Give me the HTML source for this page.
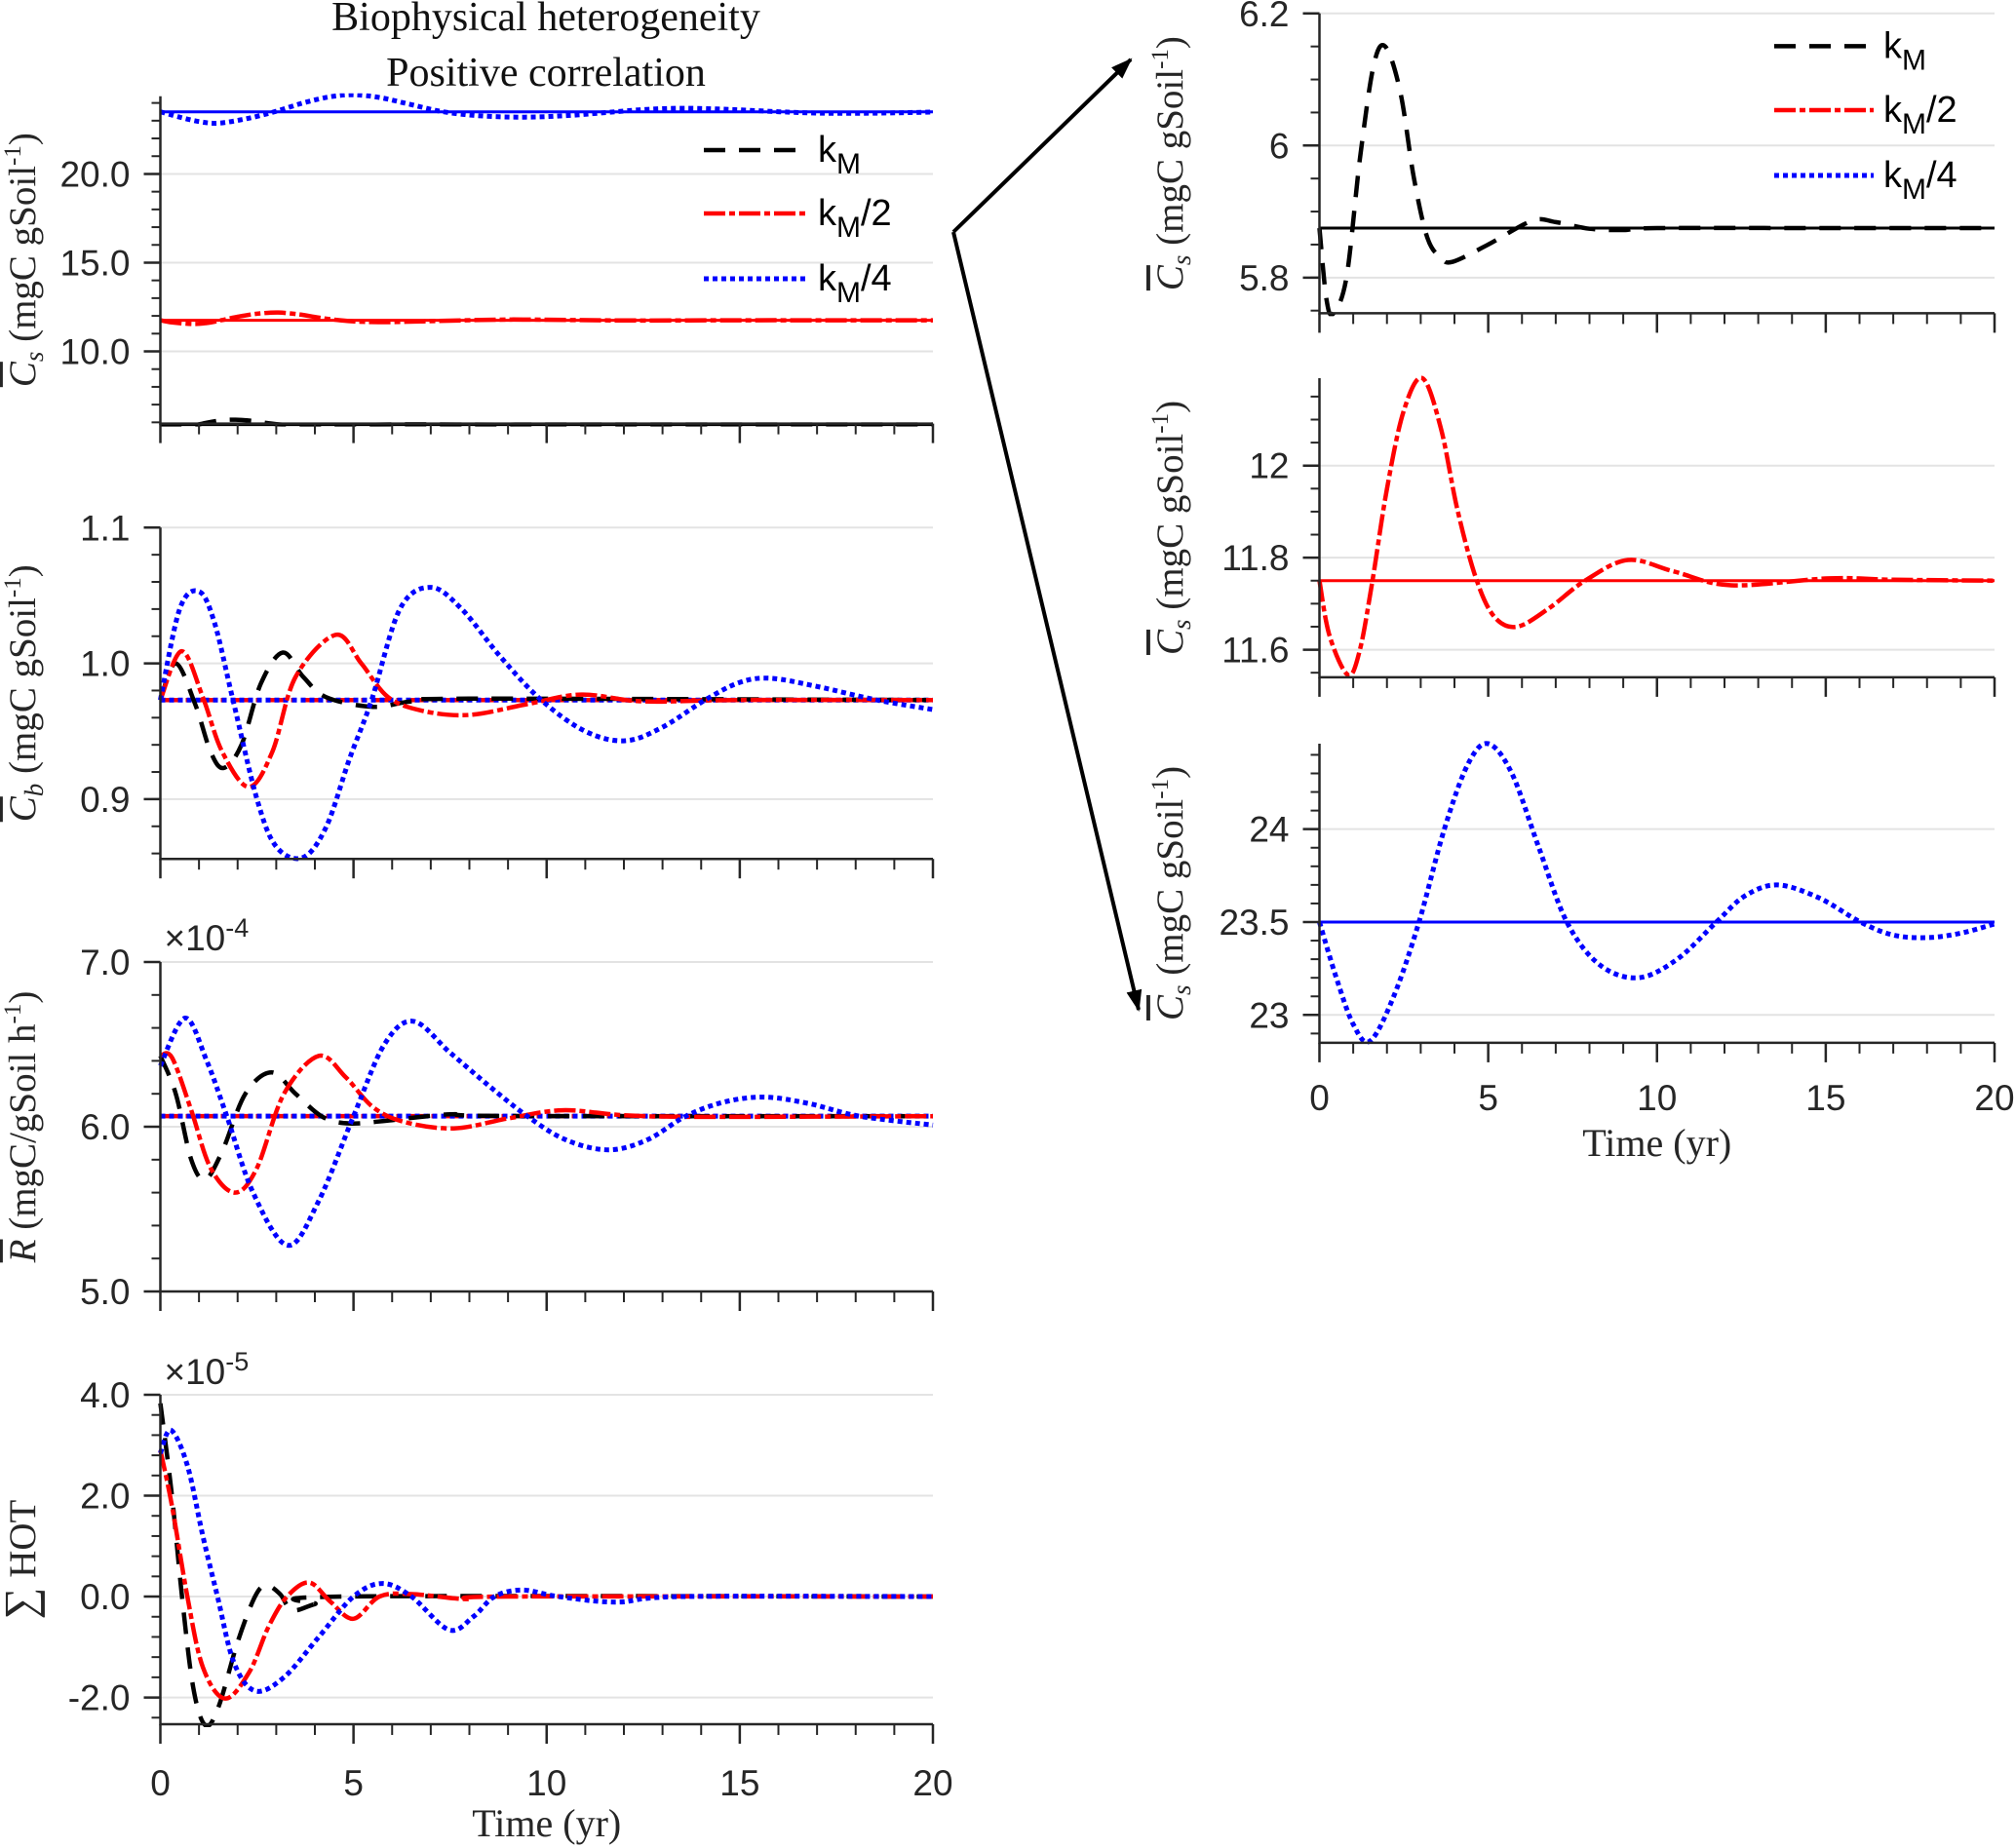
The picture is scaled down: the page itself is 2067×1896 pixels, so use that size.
<!DOCTYPE html>
<html><head><meta charset="utf-8"><style>
html,body{margin:0;padding:0;background:#fff}
svg{display:block}
</style></head><body>
<svg id="fig" width="2067" height="1896" viewBox="0 0 2067 1896" xmlns="http://www.w3.org/2000/svg" font-family="Liberation Sans, sans-serif">
<text x="560" y="31" font-family="Liberation Serif, serif" font-size="42" text-anchor="middle" fill="#111">Biophysical heterogeneity</text>
<text x="560" y="88" font-family="Liberation Serif, serif" font-size="42" text-anchor="middle" fill="#111">Positive correlation</text>
<defs><marker id="ah" markerWidth="22" markerHeight="22" refX="20" refY="11" orient="auto" markerUnits="userSpaceOnUse" viewBox="0 0 22 22"><path d="M0,3 L22,11 L0,19 z" fill="#000"/></marker></defs>
<g stroke="#000" stroke-width="4" fill="none">
<line x1="978" y1="238" x2="1160" y2="61" marker-end="url(#ah)"/>
<line x1="978" y1="238" x2="1168" y2="1036" marker-end="url(#ah)"/>
</g>
<g id="plots"></g>
</svg>
<script>
// ---- data ----
const csBlackT=[0,0.2,0.4,0.8,1.2,1.6,1.95,2.4,2.8,3.2,3.6,3.95,5,6.3,7,8,9,10,15,20];
const csBlackV=[5.875,5.77,5.745,5.8,5.98,6.12,6.15,6.08,5.95,5.86,5.83,5.824,5.85,5.886,5.884,5.874,5.872,5.875,5.875,5.875];
const csRedT=[0,0.3,0.85,1.2,1.57,2,2.5,3.05,3.6,4.1,4.66,5.2,5.86,6.8,7.87,9.14,10.5,12.2,15.1,17,20];
const csRedV=[11.75,11.63,11.545,11.6,11.75,11.95,12.12,12.19,12.08,11.9,11.75,11.67,11.65,11.69,11.75,11.795,11.77,11.74,11.755,11.752,11.75];
const csBlueT=[0,0.5,1,1.5,2.2,2.95,3.7,4.4,5.0,5.7,6.5,7.33,8.3,9.44,10.6,11.76,12.6,13.57,14.8,16.03,17,18,19,20];
const csBlueV=[23.5,23.2,22.95,22.86,23.1,23.5,24.0,24.35,24.46,24.3,23.9,23.5,23.27,23.2,23.3,23.5,23.64,23.70,23.63,23.5,23.43,23.416,23.44,23.49];
const csSteady=[5.875,11.75,23.5];

const cbBlackT=[0,0.4,0.9,1.3,1.64,2.1,2.6,3.17,3.7,4.3,5.5,6.5,8,20];
const cbBlackV=[0.973,1.0,0.97,0.935,0.923,0.94,0.985,1.008,0.99,0.975,0.968,0.972,0.974,0.973];
const cbRedT=[0,0.55,1.1,1.6,2.29,2.9,3.5,4.54,5.2,5.9,6.8,8.0,9.5,10.9,12.5,15,20];
const cbRedV=[0.973,1.009,0.975,0.935,0.909,0.935,0.99,1.021,1.0,0.975,0.965,0.962,0.970,0.977,0.972,0.973,0.973];
const cbBlueT=[0,0.5,1.0,1.4,1.88,2.5,3.0,3.69,4.3,4.9,5.47,6.2,7.0,7.8,8.8,9.86,11,12.03,13,14.1,15,15.8,17,18.55,20];
const cbBlueV=[0.973,1.04,1.053,1.03,0.973,0.9,0.865,0.857,0.88,0.93,0.973,1.04,1.056,1.04,1.005,0.973,0.95,0.943,0.953,0.973,0.986,0.989,0.983,0.973,0.966];
const cbSteady=0.973;

const rBlackT=[0,0.4,0.8,1.16,1.6,2.2,2.88,3.5,4.2,4.9,6,7.5,9,20];
const rBlackV=[6.43,6.2,5.8,5.68,5.85,6.2,6.33,6.2,6.06,6.02,6.04,6.075,6.065,6.064];
const rRedT=[0,0.3,0.8,1.3,1.93,2.5,3.2,4.1,4.8,5.5,6.3,7.6,9,10.4,12,14,20];
const rRedV=[6.43,6.42,6.1,5.75,5.60,5.75,6.2,6.43,6.3,6.12,6.03,5.99,6.05,6.10,6.07,6.06,6.064];
const rBlueT=[0,0.64,1.2,1.72,2.4,3.3,4.1,5.0,5.8,6.55,7.5,8.5,9.5,10.5,11.6,12.6,13.6,14.6,15.65,16.8,18.1,20];
const rBlueV=[6.37,6.66,6.4,6.064,5.6,5.28,5.55,6.064,6.5,6.64,6.45,6.25,6.064,5.92,5.86,5.92,6.064,6.15,6.18,6.14,6.064,6.01];
const rSteady=6.064;

const hBlackT=[0,0.3,0.56,0.85,1.16,1.5,2.0,2.45,2.74,3.1,3.41,4,4.8,20];
const hBlackV=[3.83,2.0,0,-1.8,-2.55,-2.2,-0.9,0,0.22,0.05,-0.27,-0.15,0,0];
const hRedT=[0,0.3,0.7,1.1,1.67,2.3,2.8,3.28,3.85,4.4,5.0,5.67,6.5,7.9,9,20];
const hRedV=[2.9,1.8,0,-1.4,-2.02,-1.5,-0.6,0,0.28,-0.1,-0.44,0,0.05,-0.05,0,0];
const hBlueT=[0,0.27,0.7,1.1,1.48,1.9,2.45,3.2,4.1,5.0,5.75,6.5,7.47,8.1,8.65,9.37,10.3,11.8,13.5,20];
const hBlueV=[2.84,3.3,2.6,1.2,0,-1.3,-1.87,-1.6,-0.8,0,0.26,0,-0.66,-0.4,0,0.13,0,-0.11,0,0];

const xTicks=[0,5,10,15,20];
const xTickLabels=["0","5","10","15","20"];
const legendLabels=[["k","M",""],["k","M","/2"],["k","M","/4"]];

// ---- styles ----
const ST={
 black:{c:"#000",d:"22 14",w:4.5},
 red:{c:"#ff0000",d:"22 4 6 4",w:4.5},
 blue:{c:"#0000ff",d:"5 4",w:5}
};
const NS="http://www.w3.org/2000/svg";
const root=document.getElementById('plots');
function el(tag,attrs,parent){const e=document.createElementNS(NS,tag);for(const k in attrs)e.setAttribute(k,attrs[k]);(parent||root).appendChild(e);return e;}
function smoothPath(pts){
 let d="M"+pts[0][0].toFixed(1)+","+pts[0][1].toFixed(1);
 for(let i=0;i<pts.length-1;i++){
  const p0=pts[Math.max(0,i-1)],p1=pts[i],p2=pts[i+1],p3=pts[Math.min(pts.length-1,i+2)];
  const c1x=p1[0]+(p2[0]-p0[0])/6,c1y=p1[1]+(p2[1]-p0[1])/6;
  const c2x=p2[0]-(p3[0]-p1[0])/6,c2y=p2[1]-(p3[1]-p1[1])/6;
  d+=" C"+c1x.toFixed(1)+","+c1y.toFixed(1)+" "+c2x.toFixed(1)+","+c2y.toFixed(1)+" "+p2[0].toFixed(1)+","+p2[1].toFixed(1);
 }
 return d;
}
function panel(cfg){
 const g=el('g',{});
 
 
 const sx=t=>cfg.x0+(t-0)/20*(cfg.x1-cfg.x0);
 const sy=v=>cfg.yb+(v-cfg.vmin)/(cfg.vmax-cfg.vmin)*(cfg.yt-cfg.yb);
 cfg.yTicks.forEach(v=>{const l=el('line',{x1:cfg.x0,x2:cfg.x1,y1:sy(v),y2:sy(v),stroke:"#e3e3e3","stroke-width":2},g);
  });
 const clipId=cfg.name+"-clip";
 const cp=el('clipPath',{id:clipId},g);el('rect',{x:cfg.x0-3,y:cfg.yt-3,width:cfg.x1-cfg.x0+6,height:cfg.yb-cfg.yt+6},cp);
 const cg=el('g',{"clip-path":"url(#"+clipId+")"},g);
 (cfg.steady||[]).forEach(s=>{const l=el('line',{x1:sx(0),x2:sx(20),y1:sy(s.v),y2:sy(s.v),stroke:ST[s.s].c,"stroke-width":s.dash?ST[s.s].w:3,"stroke-dasharray":s.dash?ST[s.s].d:"none"},cg);
  });
 cfg.series.forEach(s=>{
  const pts=s.t.map((t,i)=>[sx(t),sy(s.v[i])]);
  const p=el('path',{d:smoothPath(pts),fill:"none",stroke:ST[s.s].c,"stroke-width":ST[s.s].w,"stroke-dasharray":ST[s.s].d},cg);
  
  
 });
 const ax=el('path',{d:`M${cfg.x0},${cfg.yt} L${cfg.x0},${cfg.yb} L${cfg.x1},${cfg.yb}`,fill:"none",stroke:"#262626","stroke-width":2.5},g);
 
 for(let v=cfg.minorStart;v<=cfg.vmax+1e-9;v+=cfg.minor){if(v<cfg.vmin-1e-9)continue;el('line',{x1:cfg.x0-9,x2:cfg.x0,y1:sy(v),y2:sy(v),stroke:"#262626","stroke-width":2},g);}
 cfg.yTicks.forEach((v,i)=>{el('line',{x1:cfg.x0-17,x2:cfg.x0,y1:sy(v),y2:sy(v),stroke:"#262626","stroke-width":2.5},g);
  const t=el('text',{x:cfg.x0-31,y:sy(v)+13,"text-anchor":"end","font-size":37,fill:"#262626"},g);t.textContent=cfg.yLabels[i];
  });
 for(let t=0;t<=20;t++){const maj=t%5===0;el('line',{x1:sx(t),x2:sx(t),y1:cfg.yb,y2:cfg.yb+(maj?20:11),stroke:"#262626","stroke-width":maj?2.5:2},g);}
 if(cfg.xLabels){xTicks.forEach((t,i)=>{const tx=el('text',{x:sx(t),y:cfg.xLabY,"text-anchor":"middle","font-size":37,fill:"#262626"},g);tx.textContent=xTickLabels[i];
  });
  const xl=el('text',{x:(cfg.x0+cfg.x1)/2,y:cfg.xTitleY,"text-anchor":"middle","font-size":40,"font-family":"Liberation Serif, serif",fill:"#262626"},g);xl.textContent="Time (yr)";
  }
 const yc=(cfg.yt+cfg.yb)/2;
 const yl=el('text',{transform:`translate(${cfg.ylx},${yc}) rotate(-90)`,"text-anchor":"middle","font-size":39,"font-family":"Liberation Serif, serif",fill:"#262626"},g);
 
 yl.innerHTML=cfg.ylabel;
 if(cfg.exp){const e=el('text',{x:cfg.x0+4,y:cfg.expY,"font-size":37,fill:"#262626"},g);e.innerHTML='×10<tspan dy="-14" font-size="27">'+cfg.exp+'</tspan>';
  }
 if(cfg.legend){const L=cfg.legend;['black','red','blue'].forEach((s,i)=>{const y=L.ys[i];
  const ln=el('line',{x1:L.x1,x2:L.x2,y1:y,y2:y,stroke:ST[s].c,"stroke-width":ST[s].w,"stroke-dasharray":ST[s].d},g);
  
  const tx=el('text',{x:L.tx,y:y+12,"font-size":38,fill:"#000"},g);
  tx.innerHTML=legendLabels[i][0]+'<tspan dy="12" font-size="30">'+legendLabels[i][1]+'</tspan><tspan dy="-12">'+legendLabels[i][2]+'</tspan>';
  });}
}
const CsLab='<tspan font-style="italic" text-decoration="overline">C</tspan><tspan font-style="italic" font-size="27" dy="8">s</tspan><tspan dy="-8"> (mgC  gSoil</tspan><tspan font-size="25" dy="-15">-1</tspan><tspan dy="15">)</tspan>';
const CbLab='<tspan font-style="italic" text-decoration="overline">C</tspan><tspan font-style="italic" font-size="27" dy="8">b</tspan><tspan dy="-8"> (mgC  gSoil</tspan><tspan font-size="25" dy="-15">-1</tspan><tspan dy="15">)</tspan>';
const RLab='<tspan font-style="italic" text-decoration="overline">R</tspan><tspan> (mgC/gSoil h</tspan><tspan font-size="25" dy="-15">-1</tspan><tspan dy="15">)</tspan>';
const HLab='<tspan font-size="46">∑</tspan><tspan> HOT</tspan>';
const L0=164.5,L1=957,R0=1353.5,R1=2046;
panel({name:'panel-cs-all',x0:L0,x1:L1,yt:98.7,yb:434.6,vmin:5.93,vmax:24.38,yTicks:[10,15,20],yLabels:["10.0","15.0","20.0"],minor:1,minorStart:6,ylx:36,ylabel:CsLab,
 steady:[{v:csSteady[0],s:'black'},{v:csSteady[1],s:'red'},{v:csSteady[2],s:'blue'}],
 series:[{t:csBlackT,v:csBlackV,s:'black'},{t:csRedT,v:csRedV,s:'red'},{t:csBlueT,v:csBlueV,s:'blue'}],
 legend:{x1:722,x2:827,tx:839,ys:[154,219,286]}});
panel({name:'panel-cb',x0:L0,x1:L1,yt:541.3,yb:881.2,vmin:0.856,vmax:1.1,yTicks:[0.9,1.0,1.1],yLabels:["0.9","1.0","1.1"],minor:0.02,minorStart:0.86,ylx:36,ylabel:CbLab,
 steady:[{v:cbSteady,s:'red',dash:1},{v:cbSteady,s:'blue',dash:1}],
 series:[{t:cbBlackT,v:cbBlackV,s:'black'},{t:cbRedT,v:cbRedV,s:'red'},{t:cbBlueT,v:cbBlueV,s:'blue'}]});
panel({name:'panel-r',x0:L0,x1:L1,yt:987,yb:1325,vmin:5.0,vmax:7.0,yTicks:[5,6,7],yLabels:["5.0","6.0","7.0"],minor:0.2,minorStart:5,ylx:36,ylabel:RLab,exp:'-4',expY:975,
 steady:[{v:rSteady,s:'red',dash:1},{v:rSteady,s:'blue',dash:1}],
 series:[{t:rBlackT,v:rBlackV,s:'black'},{t:rRedT,v:rRedV,s:'red'},{t:rBlueT,v:rBlueV,s:'blue'}]});
panel({name:'panel-hot',x0:L0,x1:L1,yt:1431,yb:1769,vmin:-2.53,vmax:4.0,yTicks:[-2,0,2,4],yLabels:["-2.0","0.0","2.0","4.0"],minor:0.4,minorStart:-2.4,ylx:36,ylabel:HLab,exp:'-5',expY:1420,
 series:[{t:hBlackT,v:hBlackV,s:'black'},{t:hRedT,v:hRedV,s:'red'},{t:hBlueT,v:hBlueV,s:'blue'}],
 xLabels:1,xLabY:1842,xTitleY:1884});
panel({name:'panel-cs-km',x0:R0,x1:R1,yt:13.8,yb:321.4,vmin:5.746,vmax:6.2,yTicks:[5.8,6.0,6.2],yLabels:["5.8","6","6.2"],minor:0.05,minorStart:5.75,ylx:1213,ylabel:CsLab,
 steady:[{v:csSteady[0],s:'black'}],series:[{t:csBlackT,v:csBlackV,s:'black'}],
 legend:{x1:1820,x2:1922,tx:1932,ys:[47.4,113,180]}});
panel({name:'panel-cs-km2',x0:R0,x1:R1,yt:388,yb:694.9,vmin:11.54,vmax:12.19,yTicks:[11.6,11.8,12.0],yLabels:["11.6","11.8","12"],minor:0.05,minorStart:11.55,ylx:1213,ylabel:CsLab,
 steady:[{v:csSteady[1],s:'red'}],series:[{t:csRedT,v:csRedV,s:'red'}]});
panel({name:'panel-cs-km4',x0:R0,x1:R1,yt:763,yb:1069.9,vmin:22.85,vmax:24.46,yTicks:[23,23.5,24],yLabels:["23","23.5","24"],minor:0.1,minorStart:22.9,ylx:1213,ylabel:CsLab,
 steady:[{v:csSteady[2],s:'blue'}],series:[{t:csBlueT,v:csBlueV,s:'blue'}],
 xLabels:1,xLabY:1139,xTitleY:1186});
</script>
</body></html>
